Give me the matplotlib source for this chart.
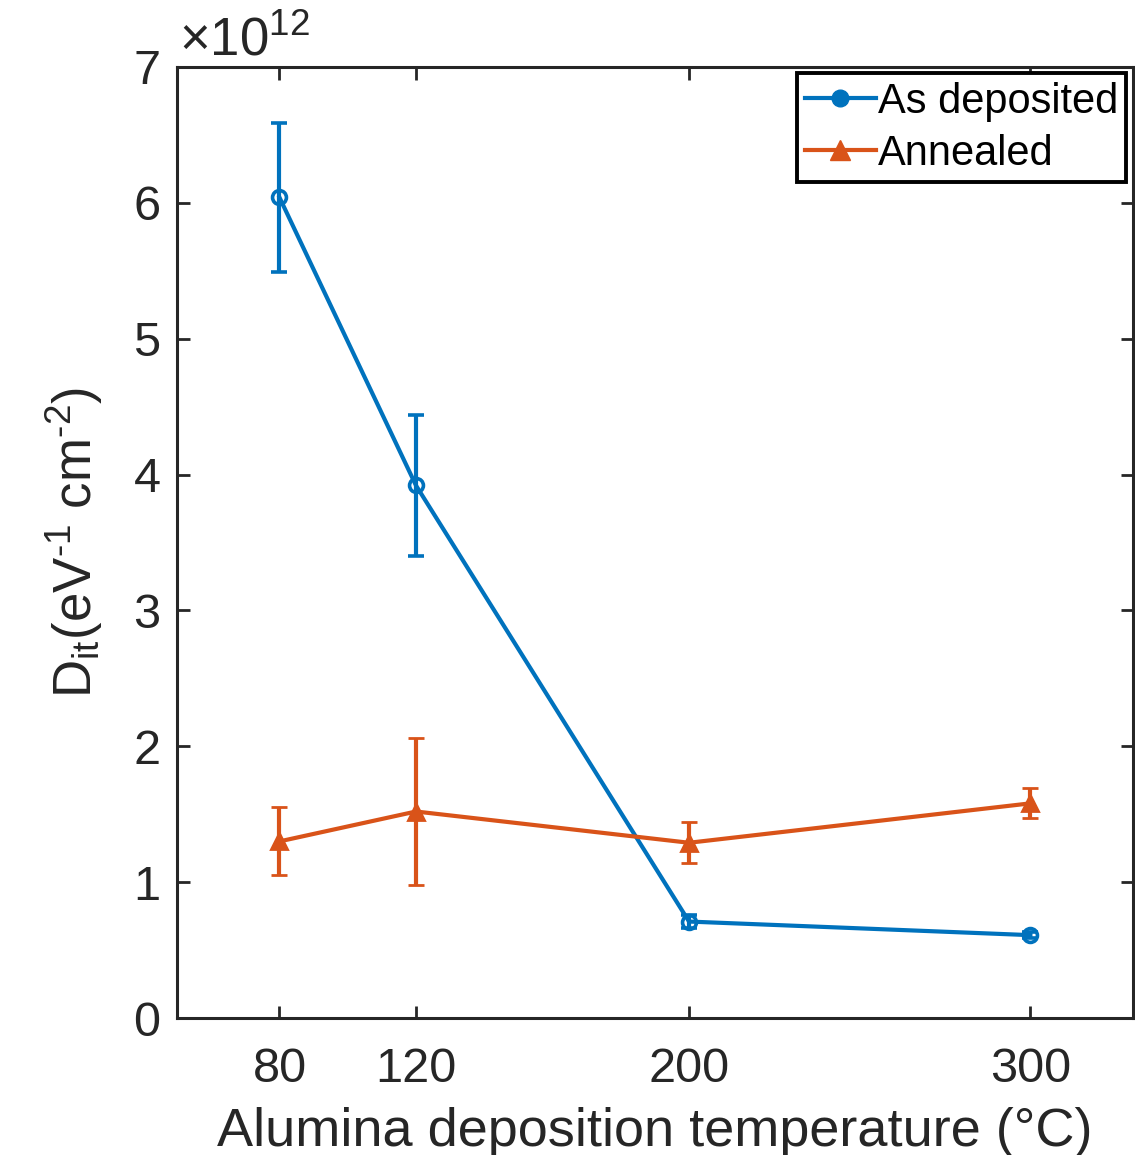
import matplotlib
matplotlib.use("Agg")
import matplotlib.pyplot as plt
from matplotlib.lines import Line2D
import numpy as np

plt.rcParams['font.family'] = ['Liberation Sans', 'DejaVu Sans']
plt.rcParams['mathtext.default'] = 'regular'

# data (values in units of 1e12)
temps = [80, 120, 200, 300]
as_dep = [6.04, 3.92, 0.71, 0.61]
as_dep_err = [0.55, 0.52, 0.05, 0.02]
annealed = [1.30, 1.52, 1.29, 1.58]
annealed_err = [0.25, 0.54, 0.15, 0.11]

blue = '#0072BD'
orange = '#D95319'
dark = '#262626'

fig = plt.figure(figsize=(11.35, 11.55), dpi=100)
ax = fig.add_axes([0.156, 0.1186, 0.842, 0.8234])

ax.errorbar(temps, as_dep, yerr=as_dep_err, color=blue, lw=3, elinewidth=3,
            capsize=6, capthick=3, marker='o', ms=10, mfc='none', mew=2.6)
ax.errorbar(temps, annealed, yerr=annealed_err, color=orange, lw=3, elinewidth=3,
            capsize=6, capthick=3, marker='^', ms=12, mfc=orange, mew=2.0)

ax.set_xlim(50, 330)
ax.set_ylim(0, 7)
ax.set_xticks(temps)
ax.set_yticks(range(0, 8))

ax.tick_params(direction='in', length=9, width=2, colors=dark, labelsize=35,
               top=True, right=True)
ax.tick_params(axis='x', pad=21)
ax.tick_params(axis='y', pad=12)
for s in ax.spines.values():
    s.set_linewidth(2.2)
    s.set_color(dark)

# label sits low and is clipped at the bottom edge, as in the reference
ax.set_xlabel('Alumina deposition temperature (°C)', fontsize=39, color=dark, labelpad=11)
ax.set_ylabel('D$_{it}$(eV$^{\u2010 1}$ cm$^{\u2010 2}$)', fontsize=38, color=dark, labelpad=20)

fig.text(0.158, 0.952, r'$\times$10$^{12}$', fontsize=38, color=dark, ha='left', va='baseline')

handles = [Line2D([], [], color=blue, lw=3, marker='o', ms=12),
           Line2D([], [], color=orange, lw=3, marker='^', ms=14)]
leg = ax.legend(handles, ['As deposited', 'Annealed'], loc='upper right', fontsize=30,
                fancybox=False, edgecolor='black', framealpha=1, borderaxespad=0.15,
                borderpad=0.2, handlelength=1.7, handletextpad=0.05, labelspacing=0.3)
leg.get_frame().set_linewidth(2.8)

fig.savefig('out.png', dpi=100)
